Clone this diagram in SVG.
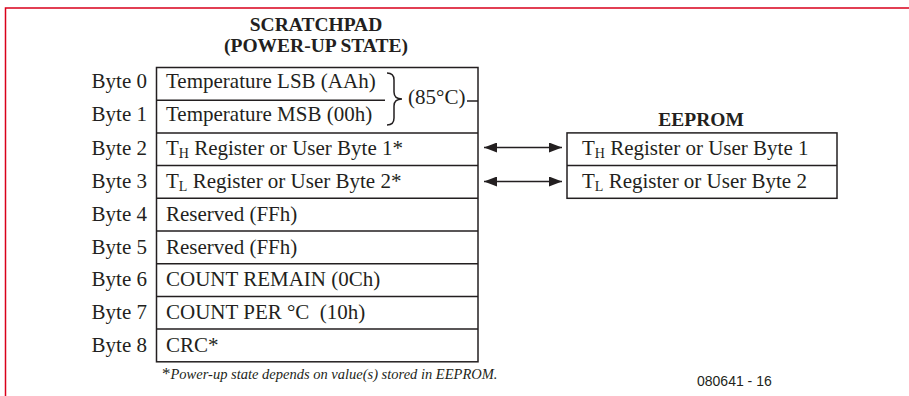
<svg xmlns="http://www.w3.org/2000/svg" width="909" height="396" viewBox="0 0 909 396">
<style>
.t{font-family:"Liberation Serif","Times New Roman",serif;font-size:21px;fill:#231f20}
.b{font-family:"Liberation Serif","Times New Roman",serif;font-size:19.5px;font-weight:bold;fill:#231f20}
.lbl{text-anchor:end}
.sub{font-size:14px}
.ln{stroke:#231f20;stroke-width:1.5;fill:none}
.box{stroke:#231f20;stroke-width:1.5;fill:#fff}
.fn{font-family:"Liberation Serif","Times New Roman",serif;font-size:14.5px;fill:#231f20}
.code{font-family:"Liberation Sans",Arial,sans-serif;font-size:14px;fill:#231f20}
</style>
<defs>
<marker id="ah" viewBox="0 0 13 10" refX="13" refY="5" markerWidth="13" markerHeight="10" markerUnits="userSpaceOnUse" orient="auto-start-reverse">
<path d="M0,0 L13,5 L0,10 Z" fill="#231f20"/>
</marker>
</defs>
<rect width="909" height="396" fill="#fff"/>
<path d="M5.5,396 L5.5,8 L909,8" stroke="#d9001b" stroke-width="1.5" fill="none"/>

<g id="scratchpad-title">
<text class="b" x="316" y="31" text-anchor="middle">SCRATCHPAD</text>
<text class="b" x="316" y="52" text-anchor="middle">(POWER-UP STATE)</text>
</g>

<g id="scratchpad">
<rect class="box" x="156.5" y="67.5" width="321.5" height="294.3"/>
<path class="ln" d="M156.5,100.2 H385 M156.5,132.9 H478 M156.5,165.6 H478 M156.5,198.3 H478 M156.5,231 H478 M156.5,263.7 H478 M156.5,296.4 H478 M156.5,329.1 H478"/>
<path class="ln" d="M387,73 Q394,73 394,80 L394,92 Q394,99 402,99 Q394,99 394,106 L394,118 Q394,125 387,125"/>
<path class="ln" d="M467,101 H478"/>
<text class="t" x="408" y="104">(85°C)</text>
</g>

<g id="byte0"><text class="t lbl" x="147" y="88">Byte 0</text><text class="t" x="166" y="88">Temperature LSB (AAh)</text></g>
<g id="byte1"><text class="t lbl" x="147" y="121">Byte 1</text><text class="t" x="166" y="121">Temperature MSB (00h)</text></g>
<g id="byte2"><text class="t lbl" x="147" y="155">Byte 2</text><text class="t" x="166" y="155">T<tspan class="sub" dy="3">H</tspan><tspan dy="-3"> Register or User Byte 1*</tspan></text></g>
<g id="byte3"><text class="t lbl" x="147" y="188.3">Byte 3</text><text class="t" x="166" y="188.3">T<tspan class="sub" dy="3">L</tspan><tspan dy="-3"> Register or User Byte 2*</tspan></text></g>
<g id="byte4"><text class="t lbl" x="147" y="221">Byte 4</text><text class="t" x="166" y="221">Reserved (FFh)</text></g>
<g id="byte5"><text class="t lbl" x="147" y="253.7">Byte 5</text><text class="t" x="166" y="253.7">Reserved (FFh)</text></g>
<g id="byte6"><text class="t lbl" x="147" y="286.4">Byte 6</text><text class="t" x="166" y="286.4">COUNT REMAIN (0Ch)</text></g>
<g id="byte7"><text class="t lbl" x="147" y="319.1">Byte 7</text><text class="t" x="166" y="319.1" xml:space="preserve" style="white-space:pre">COUNT PER °C  (10h)</text></g>
<g id="byte8"><text class="t lbl" x="147" y="351.8">Byte 8</text><text class="t" x="166" y="351.8">CRC*</text></g>

<g id="eeprom">
<text class="b" x="701" y="126" text-anchor="middle">EEPROM</text>
<rect class="box" x="567" y="132.9" width="270" height="65.4"/>
<path class="ln" d="M567,165.6 H837"/>
<text class="t" x="582" y="155">T<tspan class="sub" dy="3">H</tspan><tspan dy="-3"> Register or User Byte 1</tspan></text>
<text class="t" x="582" y="188.3">T<tspan class="sub" dy="3">L</tspan><tspan dy="-3"> Register or User Byte 2</tspan></text>
</g>

<g id="connectors">
<path class="ln" d="M484,147.5 H562" marker-start="url(#ah)" marker-end="url(#ah)"/>
<path class="ln" d="M484,181.5 H562" marker-start="url(#ah)" marker-end="url(#ah)"/>
</g>

<g id="footnote">
<text class="fn" x="162" y="379"><tspan font-size="17">*</tspan><tspan font-style="italic">Power-up state depends on value(s) stored in EEPROM.</tspan></text>
<text class="code" x="697" y="386">080641 - 16</text>
</g>
</svg>
